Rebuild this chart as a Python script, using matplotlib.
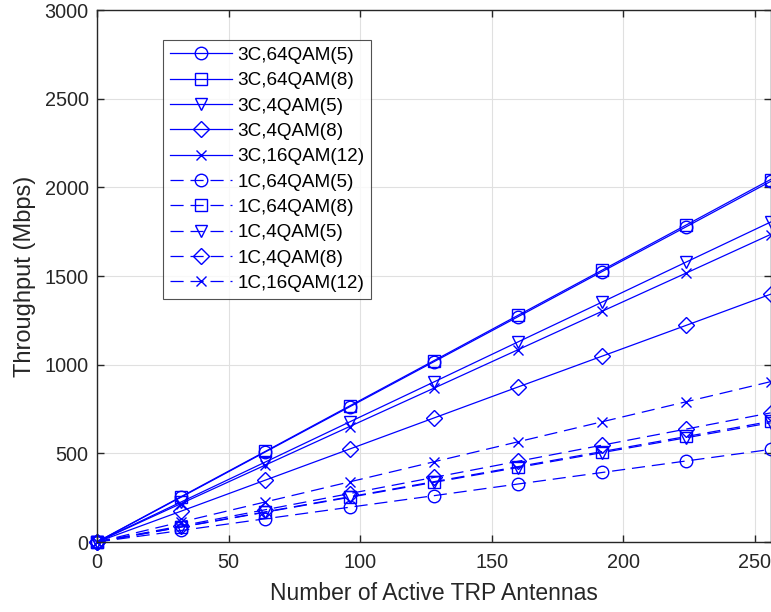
import matplotlib
matplotlib.use("Agg")
import matplotlib.pyplot as plt

plt.rcParams['font.family'] = ['Liberation Sans', 'DejaVu Sans']

antennas = [0, 32, 64, 96, 128, 160, 192, 224, 256]

labels = ["3C,64QAM(5)", "3C,64QAM(8)", "3C,4QAM(5)", "3C,4QAM(8)", "3C,16QAM(12)",
          "1C,64QAM(5)", "1C,64QAM(8)", "1C,4QAM(5)", "1C,4QAM(8)", "1C,16QAM(12)"]

tp_3c_64qam5 = [0, 253, 508, 762, 1016, 1270, 1525, 1778, 2033]
tp_3c_64qam8 = [0, 256, 511, 767, 1022, 1278, 1533, 1788, 2044]
tp_3c_4qam5 = [0, 226, 451, 677, 902, 1128, 1353, 1579, 1804]
tp_3c_4qam8 = [0, 174, 349, 524, 699, 874, 1048, 1222, 1397]
tp_3c_16qam12 = [0, 217, 434, 651, 867, 1084, 1301, 1517, 1734]
tp_1c_64qam5 = [0, 65, 131, 196, 261, 327, 392, 457, 522]
tp_1c_64qam8 = [0, 85, 170, 255, 340, 425, 510, 595, 680]
tp_1c_4qam5 = [0, 84, 168, 252, 336, 420, 504, 588, 672]
tp_1c_4qam8 = [0, 91, 182, 273, 364, 455, 546, 637, 728]
tp_1c_16qam12 = [0, 113, 226, 339, 452, 565, 678, 791, 904]

series = [tp_3c_64qam5, tp_3c_64qam8, tp_3c_4qam5, tp_3c_4qam8, tp_3c_16qam12,
          tp_1c_64qam5, tp_1c_64qam8, tp_1c_4qam5, tp_1c_4qam8, tp_1c_16qam12]
markers = ['o', 's', 'v', 'D', 'x', 'o', 's', 'v', 'D', 'x']
msizes = {'o': 9, 's': 8, 'v': 9, 'D': 8.5, 'x': 7}

fig = plt.figure(figsize=(7.71, 6.12), dpi=100)
ax = fig.add_axes([97/771, 70/612, 673.5/771, 532/612])

blue = (0, 0, 1)
dark = (0.15, 0.15, 0.15)
for i, (y, lab) in enumerate(zip(series, labels)):
    ls = '-' if i < 5 else (0, (10.5, 5.5))
    m = markers[i]
    ax.plot(antennas, y, color=blue, lw=0.9, ls=ls, marker=m,
            markersize=msizes[m], markerfacecolor='none', markeredgecolor=blue,
            markeredgewidth=1.0, label=lab, clip_on=False)

ax.set_xlim(0, 256)
ax.set_ylim(0, 3000)
ax.set_xticks([0, 50, 100, 150, 200, 250])
ax.set_yticks([0, 500, 1000, 1500, 2000, 2500, 3000])
ax.grid(True, color=(0.88, 0.88, 0.88), lw=0.8)
ax.set_axisbelow(True)
ax.tick_params(direction='in', top=True, right=True, length=5, width=1.0,
               labelsize=14.3, labelcolor=dark, color=dark, pad=6)
ax.tick_params(axis='x', pad=8)
for sp in ax.spines.values():
    sp.set_color(dark)
    sp.set_linewidth(1.0)

ax.set_xlabel("Number of Active TRP Antennas", fontsize=16.5, color=dark, labelpad=7)
ax.set_ylabel("Throughput (Mbps)", fontsize=17, color=dark, labelpad=6)

leg = ax.legend(loc='upper left', bbox_to_anchor=(66/673.5, 502/532), borderaxespad=0,
                fontsize=13.6, frameon=True, fancybox=False, edgecolor=dark,
                handlelength=3.3, labelspacing=0.43, handletextpad=0.3,
                borderpad=0.35)
leg.get_frame().set_linewidth(0.8)
for t in leg.get_texts():
    t.set_color((0.0, 0.0, 0.0))

fig.savefig("out.png", dpi=100)
